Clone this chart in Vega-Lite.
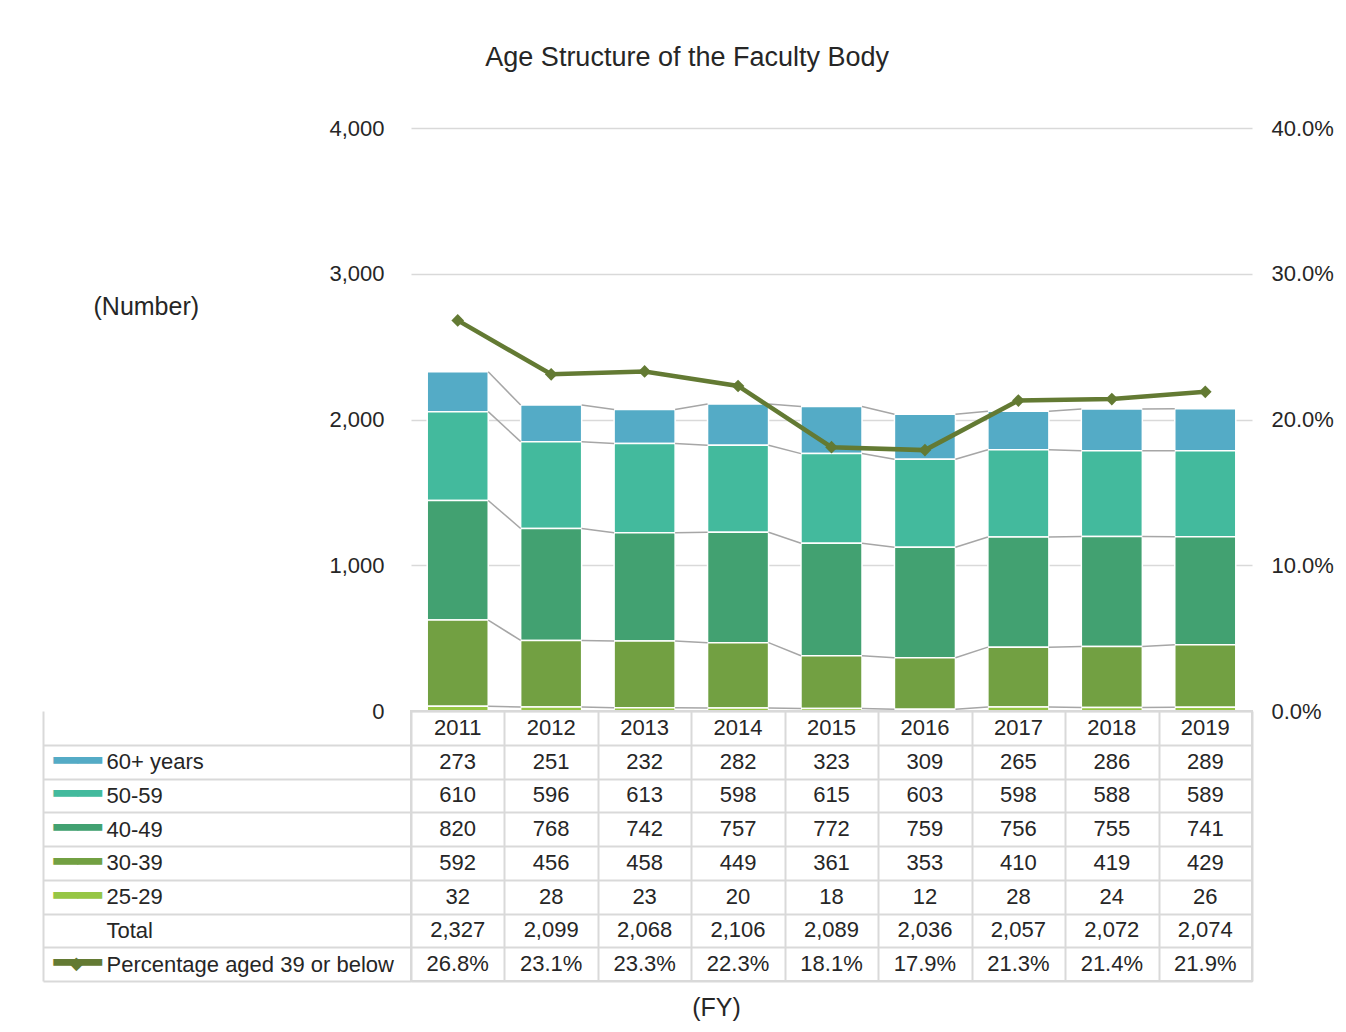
{
  "$schema": "https://vega.github.io/schema/vega-lite/v6.json",
  "padding": {"left": 41, "top": 44, "right": 5, "bottom": 5},
  "autosize": {"type": "pad"},
  "title": {"text": "Age Structure of the Faculty Body", "fontSize": 27, "fontWeight": "normal", "font": "Liberation Sans", "color": "#262626", "anchor": "middle", "offset": 45},
  "spacing": 0,
  "bounds": "flush",
  "config": {
    "font": "Liberation Sans",
    "axis": {"labelFont": "Liberation Sans", "titleFont": "Liberation Sans", "labelColor": "#262626", "titleColor": "#262626"},
    "text": {"font": "Liberation Sans", "fontSize": 22, "color": "#262626"}
  },
  "datasets": {
    "ages": [
      {"year": "2011", "age": "60+ years", "n": 273}, {"year": "2011", "age": "50-59", "n": 610}, {"year": "2011", "age": "40-49", "n": 820}, {"year": "2011", "age": "30-39", "n": 592}, {"year": "2011", "age": "25-29", "n": 32},
      {"year": "2012", "age": "60+ years", "n": 251}, {"year": "2012", "age": "50-59", "n": 596}, {"year": "2012", "age": "40-49", "n": 768}, {"year": "2012", "age": "30-39", "n": 456}, {"year": "2012", "age": "25-29", "n": 28},
      {"year": "2013", "age": "60+ years", "n": 232}, {"year": "2013", "age": "50-59", "n": 613}, {"year": "2013", "age": "40-49", "n": 742}, {"year": "2013", "age": "30-39", "n": 458}, {"year": "2013", "age": "25-29", "n": 23},
      {"year": "2014", "age": "60+ years", "n": 282}, {"year": "2014", "age": "50-59", "n": 598}, {"year": "2014", "age": "40-49", "n": 757}, {"year": "2014", "age": "30-39", "n": 449}, {"year": "2014", "age": "25-29", "n": 20},
      {"year": "2015", "age": "60+ years", "n": 323}, {"year": "2015", "age": "50-59", "n": 615}, {"year": "2015", "age": "40-49", "n": 772}, {"year": "2015", "age": "30-39", "n": 361}, {"year": "2015", "age": "25-29", "n": 18},
      {"year": "2016", "age": "60+ years", "n": 309}, {"year": "2016", "age": "50-59", "n": 603}, {"year": "2016", "age": "40-49", "n": 759}, {"year": "2016", "age": "30-39", "n": 353}, {"year": "2016", "age": "25-29", "n": 12},
      {"year": "2017", "age": "60+ years", "n": 265}, {"year": "2017", "age": "50-59", "n": 598}, {"year": "2017", "age": "40-49", "n": 756}, {"year": "2017", "age": "30-39", "n": 410}, {"year": "2017", "age": "25-29", "n": 28},
      {"year": "2018", "age": "60+ years", "n": 286}, {"year": "2018", "age": "50-59", "n": 588}, {"year": "2018", "age": "40-49", "n": 755}, {"year": "2018", "age": "30-39", "n": 419}, {"year": "2018", "age": "25-29", "n": 24},
      {"year": "2019", "age": "60+ years", "n": 289}, {"year": "2019", "age": "50-59", "n": 589}, {"year": "2019", "age": "40-49", "n": 741}, {"year": "2019", "age": "30-39", "n": 429}, {"year": "2019", "age": "25-29", "n": 26}
    ],
    "pct": [
      {"year": "2011", "pct": 0.268}, {"year": "2012", "pct": 0.231}, {"year": "2013", "pct": 0.233},
      {"year": "2014", "pct": 0.223}, {"year": "2015", "pct": 0.181}, {"year": "2016", "pct": 0.179},
      {"year": "2017", "pct": 0.213}, {"year": "2018", "pct": 0.214}, {"year": "2019", "pct": 0.219}
    ]
  },
  "vconcat": [
    {
      "width": 841,
      "height": 583,
      "view": {"stroke": null},
      "encoding": {
        "x": {"field": "year", "type": "nominal", "scale": {"paddingInner": 0.347, "paddingOuter": 0.1735}, "axis": null}
      },
      "layer": [
        {
          "layer": [
            {
              "data": {"name": "ages"},
              "transform": [
                {"stack": "n", "groupby": ["year"], "sort": [{"field": "age", "order": "ascending"}], "as": ["c0", "c1"]}
              ],
              "mark": {"type": "bar", "stroke": "white", "strokeWidth": 1.5},
              "encoding": {
                "y": {
                  "field": "c0", "type": "quantitative",
                  "scale": {"domain": [0, 4000]},
                  "axis": {
                    "orient": "left", "values": [0, 1000, 2000, 3000, 4000], "format": ",d",
                    "domain": false, "ticks": false, "labelPadding": 27, "labelFontSize": 22,
                    "grid": true, "gridColor": "#d9d9d9", "gridWidth": 1.5,
                    "title": "(Number)", "titleAngle": 0, "titleX": -318, "titleY": 178,
                    "titleAlign": "left", "titleBaseline": "middle", "titleFontSize": 25, "titleFontWeight": "normal"
                  }
                },
                "y2": {"field": "c1"},
                "color": {
                  "field": "age", "type": "nominal",
                  "scale": {"domain": ["60+ years", "50-59", "40-49", "30-39", "25-29"], "range": ["#54ABC6", "#43BA9D", "#42A171", "#72A042", "#96C644"]},
                  "legend": null
                }
              }
            },
            {
              "data": {"name": "ages"},
              "transform": [
                {"stack": "n", "groupby": ["year"], "sort": [{"field": "age", "order": "ascending"}], "as": ["c0", "c1"]},
                {"window": [{"op": "lead", "field": "c1", "as": "nc1"}, {"op": "lead", "field": "year", "as": "nyear"}], "groupby": ["age"], "sort": [{"field": "year", "order": "ascending"}]},
                {"filter": "datum.nyear != null"}
              ],
              "mark": {"type": "rule", "color": "#a6a6a6", "strokeWidth": 1.5},
              "encoding": {
                "x": {"field": "year", "type": "nominal", "bandPosition": 1, "axis": null},
                "x2": {"field": "nyear", "bandPosition": 0},
                "y": {
                  "field": "c1", "type": "quantitative",
                  "axis": {
                    "orient": "left", "values": [0, 1000, 2000, 3000, 4000], "format": ",d",
                    "domain": false, "ticks": false, "labelPadding": 27, "labelFontSize": 22,
                    "grid": true, "gridColor": "#d9d9d9", "gridWidth": 1.5,
                    "title": "(Number)", "titleAngle": 0, "titleX": -318, "titleY": 178,
                    "titleAlign": "left", "titleBaseline": "middle", "titleFontSize": 25, "titleFontWeight": "normal"
                  }
                },
                "y2": {"field": "nc1"}
              }
            }
          ]
        },
        {
          "data": {"name": "pct"},
          "mark": {"type": "line", "color": "#637A33", "strokeWidth": 4.5, "point": {"shape": "diamond", "size": 160, "filled": true, "color": "#637A33"}},
          "encoding": {
            "y": {
              "field": "pct", "type": "quantitative",
              "scale": {"domain": [0, 0.4]},
              "axis": {"orient": "right", "values": [0, 0.1, 0.2, 0.3, 0.4], "format": ".1%", "domain": false, "ticks": false, "grid": false, "labelPadding": 19, "labelFontSize": 22, "title": null}
            }
          }
        }
      ],
      "resolve": {"scale": {"y": "independent"}}
    },
    {
      "width": 841,
      "height": 270,
      "view": {"stroke": "#d9d9d9", "strokeWidth": 2},
      "encoding": {
        "x": {
          "field": "year", "type": "nominal",
          "scale": {"paddingInner": 0, "paddingOuter": 0},
          "axis": {
            "orient": "bottom", "labels": false, "ticks": false, "domain": false,
            "grid": true, "tickBand": "extent", "gridColor": "#d9d9d9", "gridWidth": 2,
            "title": "(FY)", "titleFontSize": 25, "titleFontWeight": "normal",
            "titleX": 305, "titleY": 26, "titleBaseline": "middle", "titleAlign": "center"
          }
        }
      },
      "layer": [
        {
          "data": {"name": "ages"},
          "mark": {"type": "text", "fontSize": 22},
          "encoding": {
            "y": {
              "field": "age", "type": "nominal",
              "scale": {"domain": ["FY", "60+ years", "50-59", "40-49", "30-39", "25-29", "Total", "Percentage aged 39 or below"], "paddingInner": 0, "paddingOuter": 0},
              "axis": {
                "orient": "left", "tickBand": "extent", "domain": false,
                "grid": true, "gridColor": "#d9d9d9", "gridWidth": 2,
                "ticks": true, "tickSize": 368, "tickWidth": 2,
                "tickColor": {"condition": {"test": "!!datum.extra", "value": "transparent"}, "value": "#d9d9d9"},
                "labelAlign": "left", "labelBaseline": "middle", "labelPadding": -63,
                "labelExpr": "datum.value === 'FY' ? '' : datum.value",
                "labelFontSize": 22, "labelLimit": 400, "title": null
              }
            },
            "text": {"field": "n", "type": "quantitative", "format": ","}
          }
        },
        {
          "data": {"name": "ages"},
          "transform": [{"aggregate": [{"op": "sum", "field": "n", "as": "total"}], "groupby": ["year"]}],
          "mark": {"type": "text", "fontSize": 22},
          "encoding": {
            "y": {
              "datum": "Total", "type": "nominal",
              "axis": {
                "orient": "left", "domain": false, "grid": false, "ticks": false,
                "labelAlign": "left", "labelBaseline": "middle", "labelPadding": 358,
                "labelFont": "DejaVu Sans", "labelFontSize": 40,
                "labelExpr": "(datum.value === 'FY' || datum.value === 'Total') ? '' : '━━'",
                "labelColor": {"condition": [
                  {"test": "datum.value === '60+ years'", "value": "#54ABC6"},
                  {"test": "datum.value === '50-59'", "value": "#43BA9D"},
                  {"test": "datum.value === '40-49'", "value": "#42A171"},
                  {"test": "datum.value === '30-39'", "value": "#72A042"},
                  {"test": "datum.value === '25-29'", "value": "#96C644"}
                ], "value": "#637A33"},
                "title": null
              }
            },
            "text": {"field": "total", "type": "quantitative", "format": ","}
          }
        },
        {
          "data": {"name": "pct"},
          "mark": {"type": "text", "fontSize": 22},
          "encoding": {
            "y": {
              "datum": "Percentage aged 39 or below", "type": "nominal",
              "axis": {
                "orient": "left", "offset": 368,
                "domain": true, "domainColor": "#d9d9d9", "domainWidth": 2,
                "ticks": false, "grid": false,
                "labelAlign": "center", "labelBaseline": "middle", "labelPadding": -33,
                "labelFont": "DejaVu Sans", "labelFontSize": 18, "labelColor": "#637A33",
                "labelExpr": "datum.value === 'Percentage aged 39 or below' ? '◆' : ''",
                "title": null
              }
            },
            "text": {"field": "pct", "type": "quantitative", "format": ".1%"}
          }
        },
        {
          "data": {"name": "pct"},
          "mark": {"type": "text", "fontSize": 22},
          "encoding": {
            "y": {"datum": "FY", "type": "nominal", "axis": null},
            "text": {"field": "year", "type": "nominal"}
          }
        }
      ],
      "resolve": {"axis": {"y": "independent"}}
    }
  ]
}
